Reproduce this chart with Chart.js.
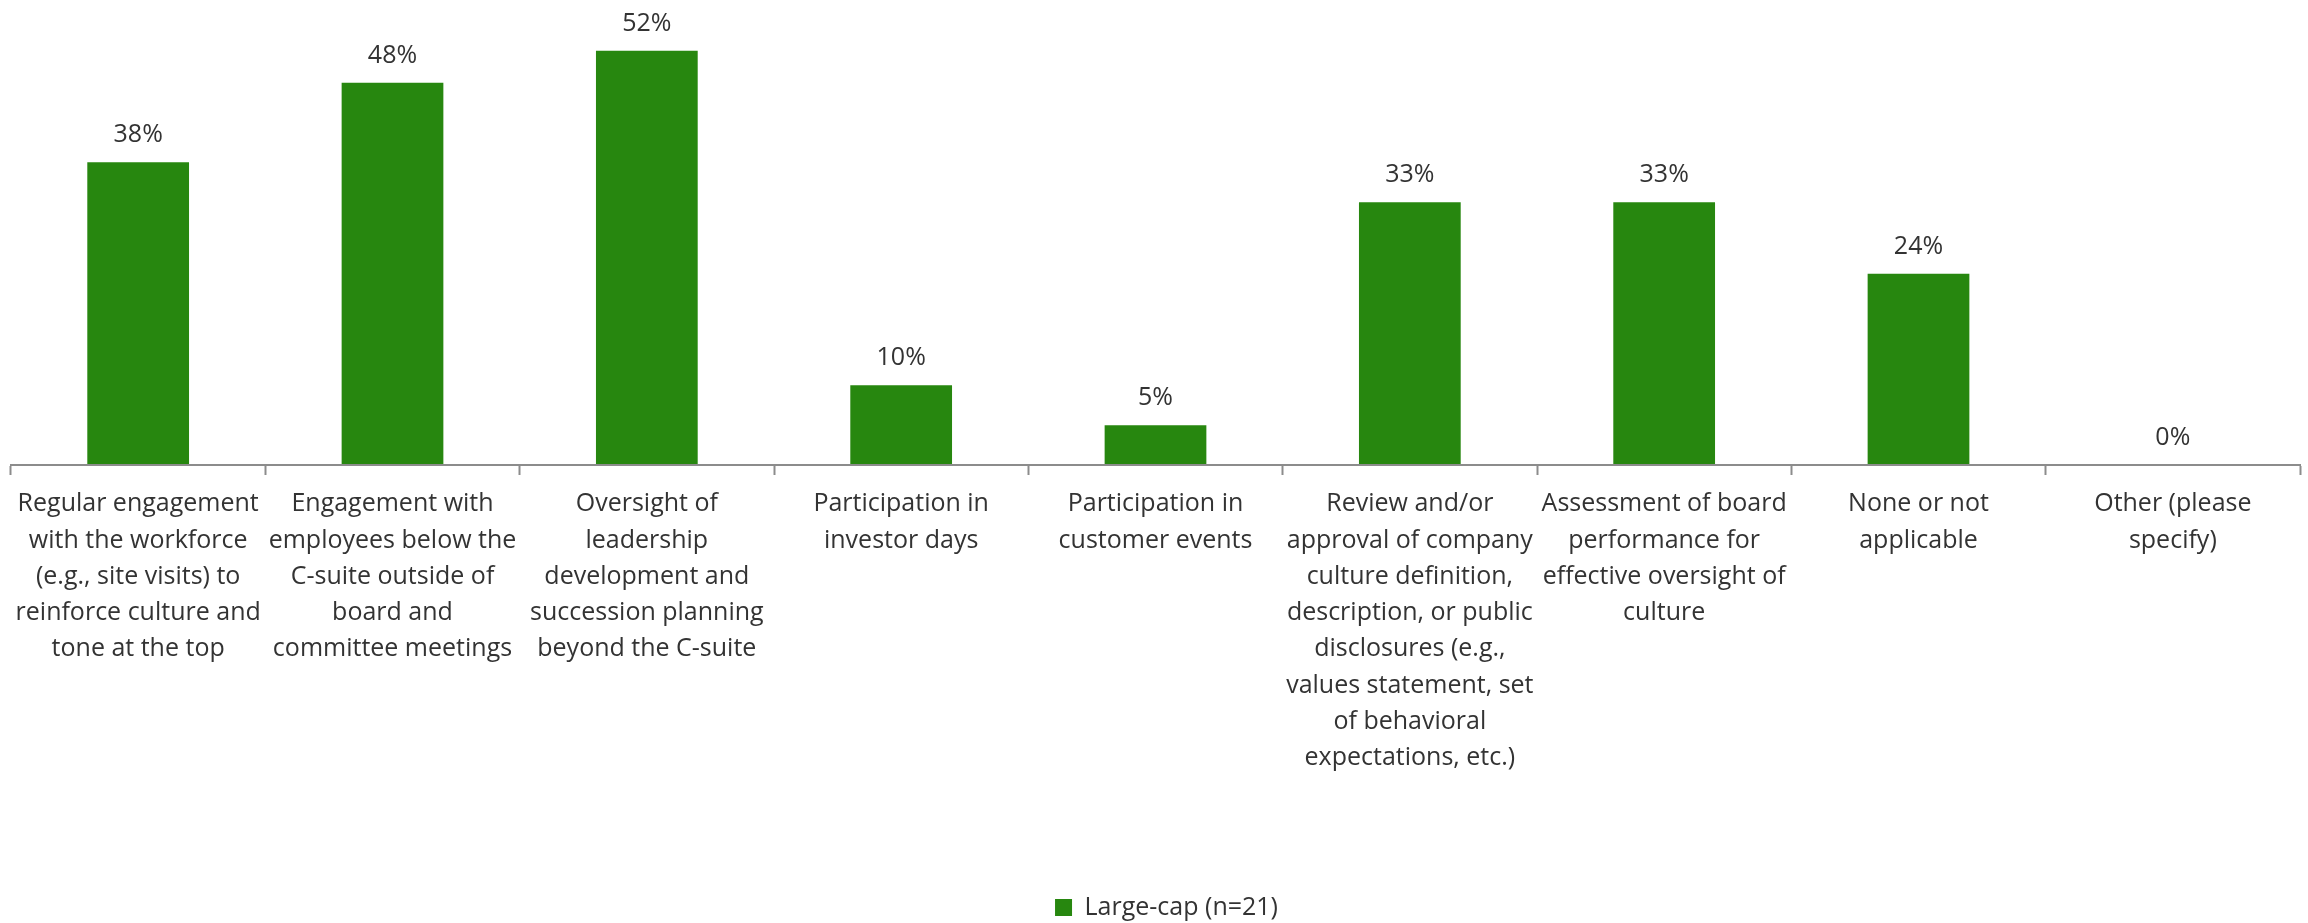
<!DOCTYPE html>
<html>
<head>
<meta charset="utf-8">
<title>Board culture oversight activities</title>
<script src="https://cdn.jsdelivr.net/npm/chart.js@4.4.1/dist/chart.umd.min.js"></script>
<style>
  html, body { margin: 0; padding: 0; background: #ffffff; }
  #wrap { width: 2308px; height: 923px; }
</style>
</head>
<body>
<div id="wrap"><canvas id="chart" width="2308" height="923"></canvas></div>
<script>
// Activities (wrapped into display lines)
const categories = [
  ["Regular engagement", "with the workforce", "(e.g., site visits) to", "reinforce culture and", "tone at the top"],
  ["Engagement with", "employees below the", "C-suite outside of", "board and", "committee meetings"],
  ["Oversight of", "leadership", "development and", "succession planning", "beyond the C-suite"],
  ["Participation in", "investor days"],
  ["Participation in", "customer events"],
  ["Review and/or", "approval of company", "culture definition,", "description, or public", "disclosures (e.g.,", "values statement, set", "of behavioral", "expectations, etc.)"],
  ["Assessment of board", "performance for", "effective oversight of", "culture"],
  ["None or not", "applicable"],
  ["Other (please", "specify)"]
];

// Share of respondents, in percent
const seriesName = "Large-cap (n=21)";
const largeCapValues = [38, 48, 52, 10, 5, 33, 33, 24, 0];

const BAR_GREEN = "#27870f";
const TEXT_DARK = "#333333";
const AXIS_GREY = "#8c8c8c";
const FONT = "'Open Sans', 'Noto Sans', sans-serif";

// Percentage labels above each bar
const valueLabels = {
  id: "valueLabels",
  afterDatasetsDraw(chart) {
    const { ctx } = chart;
    const meta = chart.getDatasetMeta(0);
    const data = chart.data.datasets[0].data;
    ctx.save();
    ctx.font = "25px " + FONT;
    ctx.fillStyle = TEXT_DARK;
    ctx.textAlign = "center";
    ctx.textBaseline = "alphabetic";
    meta.data.forEach((bar, i) => {
      ctx.fillText(data[i] + "%", bar.x, bar.y - 20);
    });
    ctx.restore();
  }
};

// Small offset so the legend sits slightly right of and below its default slot
const legendOffset = {
  id: "legendOffset",
  afterLayout(chart) {
    const lg = chart.legend;
    if (!lg) return;
    lg.left += 11; lg.right += 11;
    lg.top += 7; lg.bottom += 7;
  }
};

new Chart(document.getElementById("chart"), {
  type: "bar",
  data: {
    labels: categories,
    datasets: [{
      label: seriesName,
      data: largeCapValues,
      backgroundColor: BAR_GREEN,
      borderWidth: 0,
      categoryPercentage: 1.0,
      barPercentage: 0.40
    }]
  },
  options: {
    responsive: false,
    devicePixelRatio: 1,
    animation: false,
    layout: { padding: { top: 3, left: 11, right: 8, bottom: 0 } },
    plugins: {
      tooltip: { enabled: false },
      legend: {
        display: true,
        position: "bottom",
        labels: {
          boxWidth: 17,
          boxHeight: 17,
          padding: 101,
          color: TEXT_DARK,
          font: { family: FONT, size: 25 }
        }
      }
    },
    scales: {
      x: {
        offset: true,
        grid: {
          display: true,
          offset: true,
          drawOnChartArea: false,
          drawTicks: true,
          tickLength: 10,
          tickWidth: 2,
          tickColor: AXIS_GREY
        },
        border: { display: true, color: AXIS_GREY, width: 2, z: 1 },
        ticks: {
          padding: 11,
          color: TEXT_DARK,
          maxRotation: 0,
          minRotation: 0,
          autoSkip: false,
          font: { family: FONT, size: 25, lineHeight: 1.45 }
        }
      },
      y: {
        display: false,
        min: 0,
        max: 58
      }
    }
  },
  plugins: [valueLabels, legendOffset]
});
</script>
</body>
</html>
